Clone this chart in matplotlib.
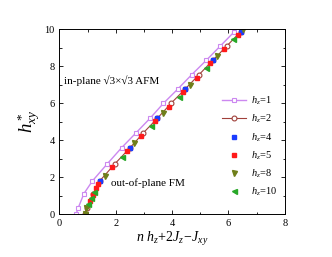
import matplotlib
matplotlib.use("Agg")
import matplotlib.pyplot as plt
from matplotlib.ticker import MultipleLocator

plt.rcParams['font.family'] = ['Liberation Serif', 'DejaVu Serif']
plt.rcParams['mathtext.fontset'] = 'custom'
plt.rcParams['mathtext.it'] = 'Liberation Serif:italic'
plt.rcParams['mathtext.rm'] = 'Liberation Serif'

# h_z = 1 (open squares, line)
x1 = [0.59, 0.67, 0.87, 1.17, 1.70, 2.21, 2.72, 3.22, 3.69, 4.20, 4.69, 5.21, 5.70, 6.21]
y1 = [0.0, 0.36, 1.12, 1.80, 2.73, 3.60, 4.40, 5.19, 5.99, 6.76, 7.53, 8.31, 9.07, 9.86]
# h_z = 2 (open circles, line)
x2 = [0.90, 0.97, 1.20, 1.43, 1.97, 2.51, 2.98, 3.48, 3.96, 4.46, 4.95, 5.44, 5.93, 6.43]
y2 = [0.0, 0.36, 1.12, 1.80, 2.73, 3.60, 4.40, 5.19, 5.99, 6.76, 7.53, 8.31, 9.07, 9.86]
# h_z = 4
x4 = [1.44, 2.51, 3.48, 4.46, 5.44, 6.43]
y4 = [1.81, 3.60, 5.19, 6.76, 8.31, 9.86]
# h_z = 5
x5 = [1.09, 1.18, 1.30, 1.38, 1.86, 2.39, 2.90, 3.40, 3.89, 4.39, 4.87, 5.36, 5.85, 6.32]
y5 = [0.72, 1.04, 1.40, 1.62, 2.54, 3.40, 4.22, 5.02, 5.81, 6.60, 7.38, 8.17, 8.94, 9.70]
# h_z = 8
x8 = [0.90, 0.96, 1.60, 2.66, 3.66, 4.63, 5.59, 6.52]
y8 = [0.0, 0.33, 2.09, 3.83, 5.45, 7.00, 8.54, 9.98]
# h_z = 10
x10 = [1.03, 1.12, 1.23, 2.21, 3.25, 4.23, 5.21, 6.16]
y10 = [0.54, 0.86, 1.22, 3.11, 4.77, 6.35, 7.91, 9.44]

fig = plt.figure(figsize=(3.32, 2.57), dpi=100)
ax = fig.add_axes([0.179, 0.166, 0.679, 0.721])

ax.plot(x1, y1, '-s', color='#cc88f0', mfc='white', mec='#cc88f0', ms=3.5, lw=1.0,
        mew=0.8, label=r'$\mathit{h_z\!=\!1}$')
ax.plot(x2, y2, '-o', color='#a0403a', mfc='white', mec='#a0403a', ms=3.5, lw=0.8,
        mew=0.8, label=r'$\mathit{h_z\!=\!2}$')
ax.plot(x4, y4, 's', color='#1a3cff', ms=3.3, lw=0, label=r'$\mathit{h_z\!=\!4}$')
ax.plot(x5, y5, 's', color='#ff1a1a', ms=3.3, lw=0, label=r'$\mathit{h_z\!=\!5}$')
ax.plot(x8, y8, 'v', color='#6f7f1a', ms=3.6, lw=0, label=r'$\mathit{h_z\!=\!8}$')
ax.plot(x10, y10, '<', color='#28a828', ms=3.6, lw=0, label=r'$\mathit{h_z\!=\!10}$')

ax.set_xlim(0, 8)
ax.set_ylim(0, 10)
ax.xaxis.set_major_locator(MultipleLocator(2))
ax.xaxis.set_minor_locator(MultipleLocator(1))
ax.yaxis.set_major_locator(MultipleLocator(2))
ax.yaxis.set_minor_locator(MultipleLocator(1))
ax.tick_params(which='both', direction='in', top=True, right=True, labelsize=7.5, width=0.6)
ax.tick_params(which='major', length=3)
ax.tick_params(which='minor', length=1.8)
for s in ax.spines.values():
    s.set_linewidth(0.7)

ax.set_xlabel(r'$\mathit{n\ h_z\!+\!2J_z\!-\!J_{xy}}$', fontsize=10, labelpad=1)
ax.set_ylabel(r'$\mathit{h^*_{xy}}$', fontsize=13.5, labelpad=1)

ax.text(0.17, 7.21, 'in-plane √3×√3 AFM', fontsize=8, va='center')
ax.text(1.83, 1.67, 'out-of-plane FM', fontsize=8, va='center')

ax.legend(loc='upper right', bbox_to_anchor=(1.0, 0.685), frameon=False, fontsize=7.5,
          handlelength=2.3, labelspacing=0.55, handletextpad=0.5, borderpad=0.2)

fig.savefig('out.png', dpi=100)
